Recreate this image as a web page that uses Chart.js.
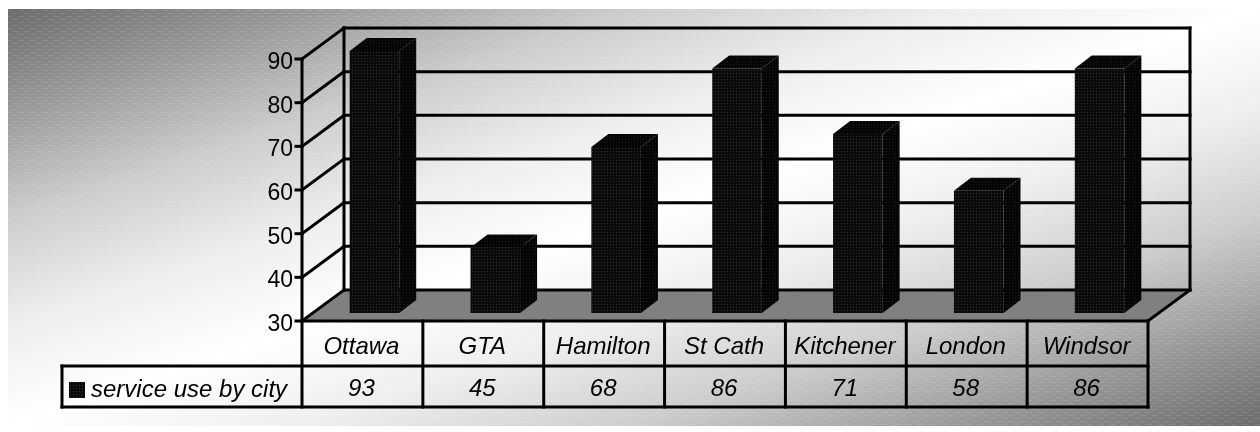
<!DOCTYPE html>
<html>
<head>
<meta charset="utf-8">
<title>service use by city</title>
<script src="https://cdn.jsdelivr.net/npm/chart.js@4/dist/chart.umd.min.js"></script>
<style>
  html, body { margin: 0; padding: 0; background: #fff; overflow: hidden; }
  canvas { display: block; }
</style>
</head>
<body>
<canvas id="cityChart" width="1260" height="432"></canvas>
<script>
const cities = ['Ottawa', 'GTA', 'Hamilton', 'St Cath', 'Kitchener', 'London', 'Windsor'];
const serviceUse = [93, 45, 68, 86, 71, 58, 86];
const seriesName = 'service use by city';
const yMin = 30;
const yMax = 90;
const yStep = 10;

// fake 3D offsets, relative to the plane the bars stand on
const front = { dx: -12, dy: 8 };
const back = { dx: 30, dy: -23 };
const barDepth = { dx: 17, dy: -13 };

const font = '23px "Liberation Sans", Arial, sans-serif';
const italicFont = 'italic 24px "Liberation Sans", Arial, sans-serif';

function makeTile(w, h, paint) {
    const c = document.createElement('canvas');
    c.width = w;
    c.height = h;
    paint(c.getContext('2d'));
    return c;
}

const barTile = makeTile(3, 3, function (g) {
    g.fillStyle = '#0a0a0a';
    g.fillRect(0, 0, 3, 3);
    g.fillStyle = '#303030';
    g.fillRect(1, 1, 1, 1);
});
const sideTile = makeTile(3, 3, function (g) {
    g.fillStyle = '#040404';
    g.fillRect(0, 0, 3, 3);
    g.fillStyle = '#1c1c1c';
    g.fillRect(1, 1, 1, 1);
});
const ditherTile = makeTile(12, 6, function (g) {
    g.fillStyle = 'rgba(255,255,255,0.1)';
    g.fillRect(0, 1, 6, 1);
    g.fillRect(6, 4, 6, 1);
});

const ctxMain = document.getElementById('cityChart').getContext('2d');
const barFill = ctxMain.createPattern(barTile, 'repeat');
const sideFill = ctxMain.createPattern(sideTile, 'repeat');

function line(ctx, x1, y1, x2, y2) {
    ctx.beginPath();
    ctx.moveTo(x1, y1);
    ctx.lineTo(x2, y2);
    ctx.stroke();
}

function poly(ctx, pts, fill) {
    ctx.beginPath();
    pts.forEach(function (p, i) {
        if (i === 0) ctx.moveTo(p[0], p[1]);
        else ctx.lineTo(p[0], p[1]);
    });
    ctx.closePath();
    ctx.fillStyle = fill;
    ctx.fill();
}

const backdrop = {
    id: 'backdrop',
    beforeDatasetsDraw(chart) {
        const ctx = chart.ctx;
        const area = chart.chartArea;
        const y = chart.scales.y;
        const x = chart.scales.x;
        const colW = x.getPixelForValue(1) - x.getPixelForValue(0);

        const frontL = area.left + front.dx;
        const frontR = area.right + front.dx;
        const frontB = area.bottom + front.dy;
        const backL = area.left + back.dx;
        const backR = area.right + back.dx;
        const backB = area.bottom + back.dy;
        const backT = area.top + back.dy;

        ctx.save();

        // slide background
        const grad = ctx.createLinearGradient(509, -158, 759, 593);
        grad.addColorStop(0, '#6c6c6c');
        grad.addColorStop(0.12, '#989898');
        grad.addColorStop(0.25, '#cccccc');
        grad.addColorStop(0.38, '#eeeeee');
        grad.addColorStop(0.5, '#ffffff');
        grad.addColorStop(0.62, '#eeeeee');
        grad.addColorStop(0.75, '#cccccc');
        grad.addColorStop(0.88, '#989898');
        grad.addColorStop(1, '#6c6c6c');
        ctx.fillStyle = grad;
        ctx.fillRect(8, 9, 1252, 417);
        ctx.fillStyle = ctx.createPattern(ditherTile, 'repeat');
        ctx.fillRect(8, 9, 1252, 417);

        // floor
        poly(ctx, [[frontL, frontB], [backL, backB], [backR, backB], [frontR, frontB]], '#808080');

        ctx.strokeStyle = '#000';
        ctx.lineWidth = 3;
        ctx.lineCap = 'square';

        // walls and grid
        y.ticks.forEach(function (t) {
            const py = y.getPixelForValue(t.value);
            line(ctx, backL, py + back.dy, backR, py + back.dy);
            line(ctx, frontL, py + front.dy, backL, py + back.dy);
            line(ctx, frontL - 6, py + front.dy, frontL, py + front.dy);
        });
        line(ctx, backL, backT, backL, backB);
        line(ctx, backR, backT, backR, backB);
        line(ctx, frontR, frontB, backR, backB);
        line(ctx, frontL, area.top + front.dy, frontL, frontB);

        // data table
        const row1 = frontB + 45;
        const row2 = frontB + 86;
        const tableL = 62;
        line(ctx, frontL, frontB, frontR, frontB);
        line(ctx, tableL, row1, frontR, row1);
        line(ctx, tableL, row2, frontR, row2);
        line(ctx, tableL, row1, tableL, row2);
        for (let i = 0; i <= cities.length; i++) {
            const cx = frontL + colW * i;
            line(ctx, cx, frontB, cx, row2);
        }

        ctx.fillStyle = '#000';
        ctx.textBaseline = 'alphabetic';

        // y tick labels
        ctx.font = font;
        ctx.textAlign = 'right';
        y.ticks.forEach(function (t) {
            ctx.fillText(String(t.value), frontL - 9, y.getPixelForValue(t.value) + front.dy + 10);
        });

        // table text
        ctx.font = italicFont;
        ctx.textAlign = 'center';
        cities.forEach(function (name, i) {
            const cx = x.getPixelForValue(i) + front.dx;
            ctx.fillText(name, cx - 1, frontB + 33);
            ctx.fillText(String(serviceUse[i]), cx - 1, row2 - 11);
        });

        ctx.textAlign = 'left';
        ctx.fillText(seriesName, 91, row2 - 10);
        ctx.fillStyle = barFill;
        ctx.fillRect(69, 382, 16, 16);

        ctx.restore();
    },
    afterDatasetsDraw(chart) {
        const ctx = chart.ctx;
        const area = chart.chartArea;
        chart.getDatasetMeta(0).data.forEach(function (bar) {
            const l = bar.x - bar.width / 2;
            const r = bar.x + bar.width / 2;
            const t = Math.max(bar.y, area.top);
            const b = Math.min(bar.base, area.bottom);
            const dx = barDepth.dx;
            const dy = barDepth.dy;
            poly(ctx, [[r, t], [r + dx, t + dy], [r + dx, b + dy], [r, b]], sideFill);
            poly(ctx, [[l, t], [l + dx, t + dy], [r + dx, t + dy], [r, t]], sideFill);
        });
    }
};

new Chart(ctxMain, {
    type: 'bar',
    data: {
        labels: cities,
        datasets: [{
            label: seriesName,
            data: serviceUse,
            backgroundColor: barFill,
            borderWidth: 0,
            categoryPercentage: 1,
            barPercentage: 0.41
        }]
    },
    options: {
        responsive: false,
        animation: false,
        layout: { padding: { left: 314, right: 100, top: 51, bottom: 119 } },
        plugins: {
            legend: { display: false },
            tooltip: { enabled: false }
        },
        scales: {
            x: { display: false },
            y: { display: false, min: yMin, max: yMax, ticks: { stepSize: yStep } }
        }
    },
    plugins: [backdrop]
});
</script>
</body>
</html>
